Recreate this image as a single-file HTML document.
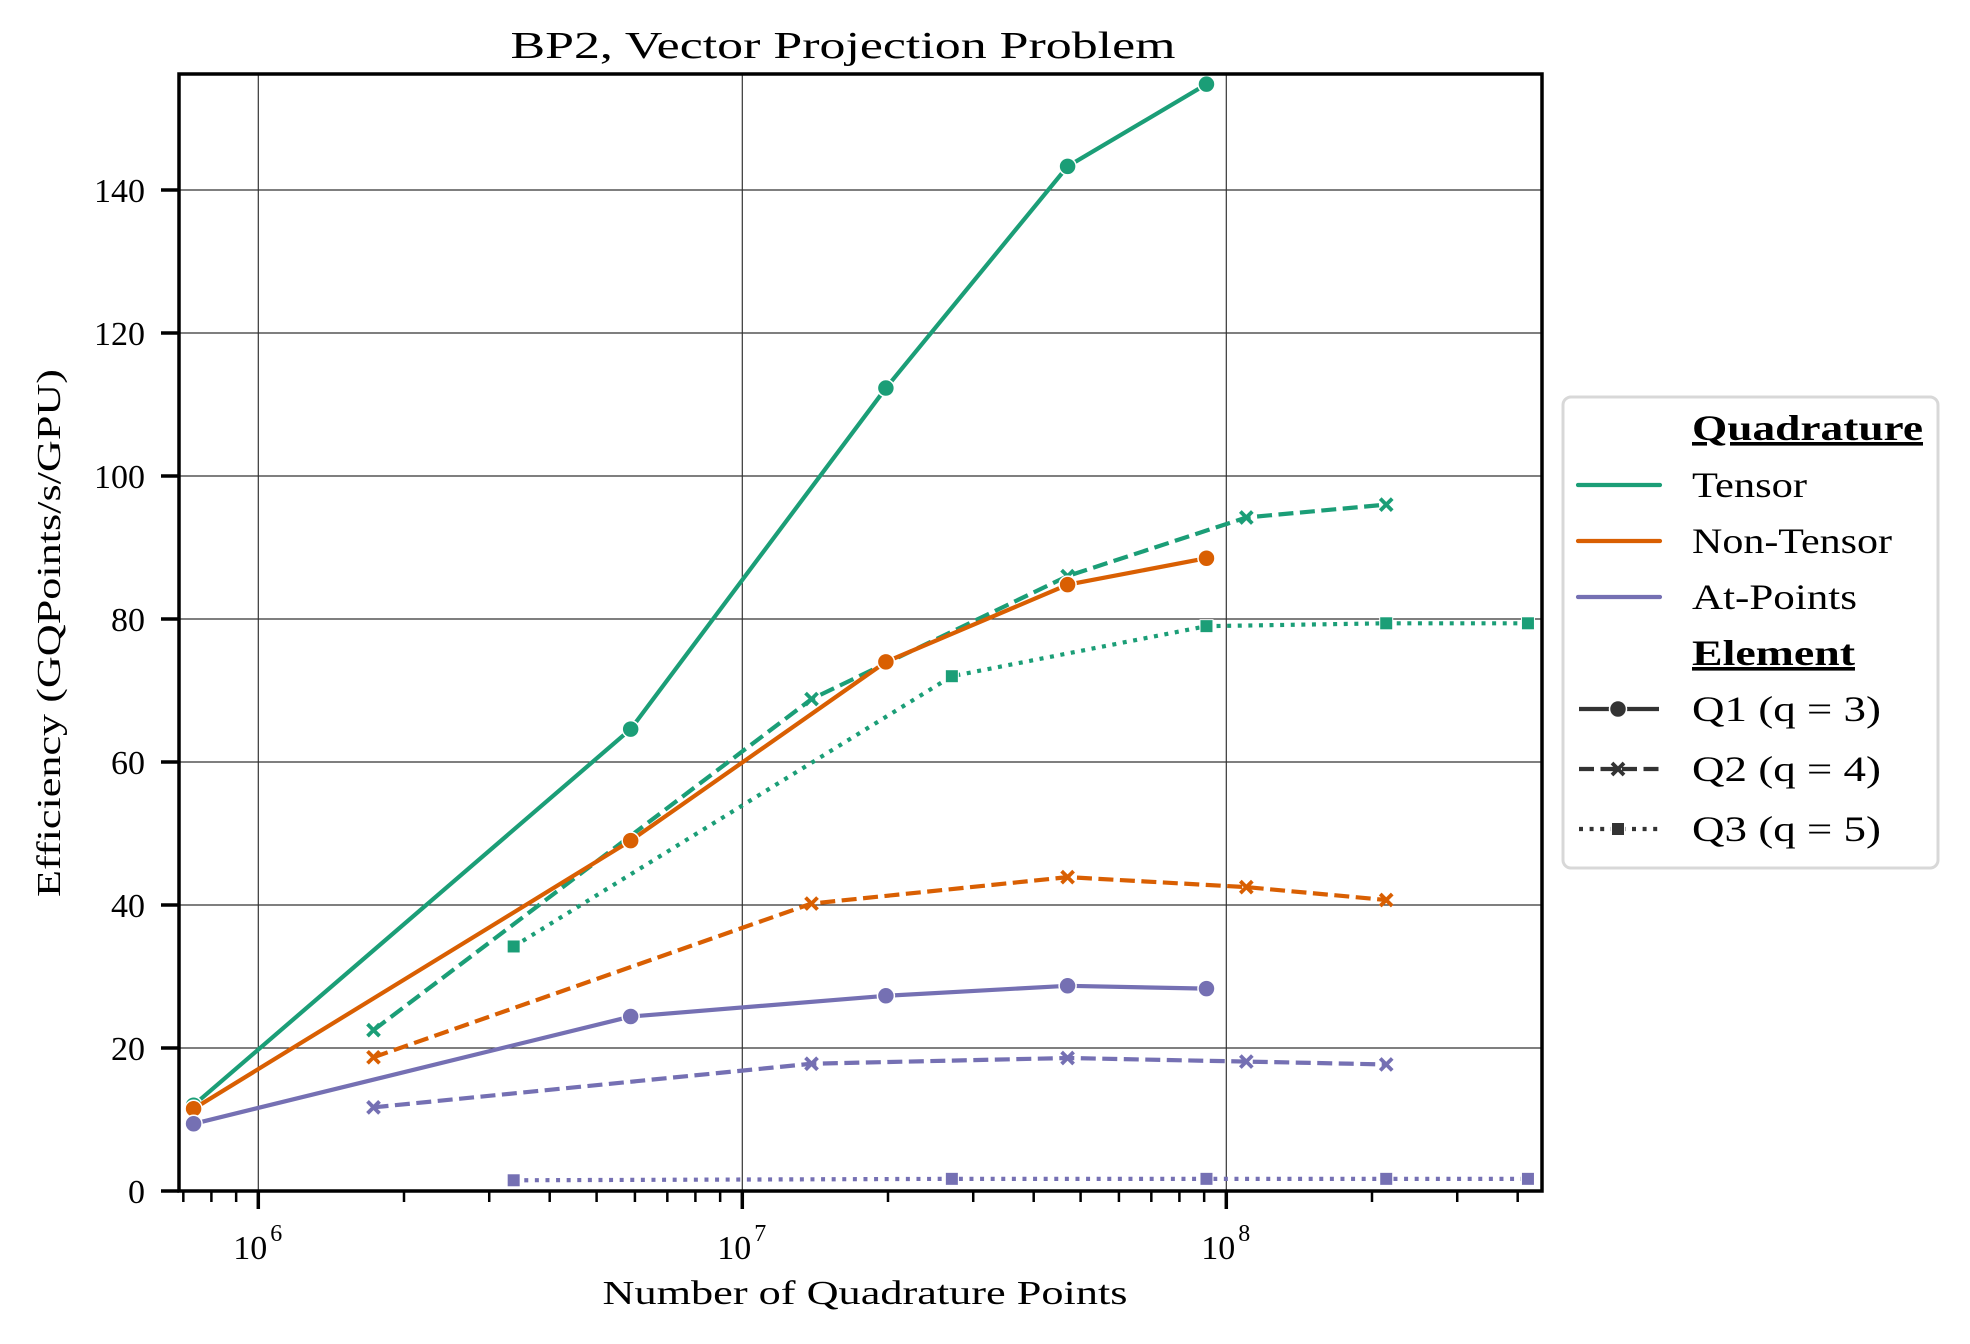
<!DOCTYPE html>
<html><head><meta charset="utf-8"><style>
html,body{margin:0;padding:0;background:#fff}
svg{display:block;font-family:"Liberation Serif","DejaVu Serif",serif}
</style></head><body>
<svg id="chart" width="1970" height="1344" viewBox="0 0 1970 1344">
<g id="grid"></g>
<g id="series"></g>
<g id="axes"></g>
<text x="843" y="58" font-size="38" text-anchor="middle" textLength="665" lengthAdjust="spacingAndGlyphs">BP2, Vector Projection Problem</text>
<text x="865" y="1304" font-size="34" text-anchor="middle" textLength="525" lengthAdjust="spacingAndGlyphs">Number of Quadrature Points</text>
<text transform="translate(60,633) rotate(-90)" font-size="34" text-anchor="middle" textLength="528" lengthAdjust="spacingAndGlyphs">Efficiency (GQPoints/s/GPU)</text>
<g id="legend"></g>
</svg>
<script>
// data
const colors = ["#1b9e77","#d95f02","#7570b3"];
const quadNames = ["Tensor","Non-Tensor","At-Points"];
const xQ1 = [7.35e5, 5.88e6, 1.98e7, 4.7e7, 9.1e7];
const xQ2 = [1.73e6, 1.39e7, 4.7e7, 1.1e8, 2.14e8];
const xQ3 = [3.37e6, 2.71e7, 9.1e7, 2.14e8, 4.2e8];
const tensorQ1 = [12.0, 64.6, 112.3, 143.3, 154.8];
const tensorQ2 = [22.5, 68.8, 86.0, 94.2, 96.0];
const tensorQ3 = [34.2, 72.0, 79.0, 79.4, 79.4];
const nonTensorQ1 = [11.5, 49.0, 74.0, 84.8, 88.5];
const nonTensorQ2 = [18.7, 40.2, 43.9, 42.5, 40.7];
const atPointsQ1 = [9.4, 24.4, 27.3, 28.7, 28.3];
const atPointsQ2 = [11.7, 17.8, 18.6, 18.1, 17.7];
const atPointsQ3 = [1.5, 1.7, 1.7, 1.7, 1.7];
const yTicks = [0,20,40,60,80,100,120,140];
const xDecades = [6,7,8];

const L=179,R=1542,T=74,B=1191;
const X0=258.3, DEC=484;
const YPU=(B-190)/140;
function xs(v){return X0+(Math.log10(v)-6)*DEC;}
function ys(v){return B-v*YPU;}
const NS="http://www.w3.org/2000/svg";
function mk(tag,attrs,parent){const e=document.createElementNS(NS,tag);for(const k in attrs)e.setAttribute(k,attrs[k]);parent.appendChild(e);return e;}
const grid=document.getElementById('grid'),ser=document.getElementById('series'),ax=document.getElementById('axes'),leg=document.getElementById('legend');

yTicks.forEach(t=>{const l=mk('line',{x1:L,x2:R,y1:ys(t),y2:ys(t),stroke:'#333','stroke-width':1.2},grid);

});
xDecades.forEach(d=>{const x=xs(Math.pow(10,d));const l=mk('line',{x1:x,x2:x,y1:T,y2:B,stroke:'#333','stroke-width':1.2},grid);

});

const dashes=["","15 6.5","4 6.6"];
function marker(kind,x,y,c,parent,name){
  let m;
  if(kind===0){m=mk('circle',{cx:x,cy:y,r:8.5,fill:c,stroke:'#fff','stroke-width':1.5},parent);}
  else if(kind===1){m=mk('path',{d:`M${x-6},${y-6}L${x+6},${y+6}M${x-6},${y+6}L${x+6},${y-6}`,stroke:c,'stroke-width':3.8,fill:'none'},parent);}
  else {m=mk('rect',{x:x-6.5,y:y-6.5,width:13,height:13,fill:c,stroke:'#fff','stroke-width':1},parent);}
  
  
}
const seriesList=[
  [0,0,xQ1,tensorQ1],[0,1,xQ2,tensorQ2],[0,2,xQ3,tensorQ3],
  [1,0,xQ1,nonTensorQ1],[1,1,xQ2,nonTensorQ2],
  [2,0,xQ1,atPointsQ1],[2,1,xQ2,atPointsQ2],[2,2,xQ3,atPointsQ3]
];
seriesList.forEach(([q,e,xv,yv])=>{
  const g=mk('g',{},ser);
  
  
  const pts=xv.map((x,i)=>xs(x)+','+ys(yv[i])).join(' ');
  const pl=mk('polyline',{points:pts,fill:'none',stroke:colors[q],'stroke-width':4.2,'stroke-dasharray':dashes[e]},g);
  
  
  xv.forEach((x,i)=>marker(e,xs(x),ys(yv[i]),colors[q],g,'point'));
});

const fr=mk('rect',{x:L,y:T,width:R-L,height:B-T,fill:'none',stroke:'#000','stroke-width':3.5},ax);


yTicks.forEach(t=>{
  const l=mk('line',{x1:L-18,x2:L,y1:ys(t),y2:ys(t),stroke:'#000','stroke-width':3.5},ax);
  
  
  const tx=mk('text',{x:L-34,y:ys(t)+12,'font-size':34,'text-anchor':'end'},ax);
  tx.textContent=t;
  
  
});
for(let d=5;d<=8;d++){for(let k=1;k<10;k++){
  const v=k*Math.pow(10,d);const x=xs(v);if(x<L||x>R)continue;
  const major=k===1;
  const l=mk('line',{x1:x,x2:x,y1:B,y2:B+(major?18:11),stroke:'#000','stroke-width':major?3.5:2.5},ax);
  
  
  if(major){const tx=mk('text',{x:x-8,y:B+68,'font-size':34,'text-anchor':'middle'},ax);
    tx.textContent='10';
    
    
    const sp=mk('text',{x:x+12,y:B+50,'font-size':24,'text-anchor':'start'},ax);sp.textContent=String(d);
    
    }
}}

const lb=mk('rect',{x:1563,y:397,width:375,height:471,rx:8,fill:'#fff',stroke:'#d8d8d8','stroke-width':3},leg);


function ltext(y,s,bold,name,len){const t=mk('text',{x:1692,y:y+12,'font-size':36,'font-weight':bold?'bold':'normal',textLength:len,lengthAdjust:'spacingAndGlyphs'},leg);t.textContent=s;
  if(bold)t.setAttribute('text-decoration','underline');
  
  return t;}
ltext(428,'Quadrature',true,'legend-title-quadrature',231);
const qLens=[115,200,165];
[485,541,597].forEach((y,i)=>{const l=mk('line',{x1:1578,x2:1660,y1:y,y2:y,stroke:colors[i],'stroke-width':4.2,'stroke-linecap':'round'},leg);
  
  
  ltext(y,quadNames[i],false,'legend-entry-'+quadNames[i].toLowerCase(),qLens[i]);});
ltext(653,'Element',true,'legend-title-element',163);
const elNames=['Q1 (q = 3)','Q2 (q = 4)','Q3 (q = 5)'];
[709,769,829].forEach((y,i)=>{
  const l=mk('line',{x1:1579,x2:1659,y1:y,y2:y,stroke:'#333','stroke-width':4.2,'stroke-dasharray':dashes[i]},leg);
  
  
  marker(i,1618,y,'#333',leg,'legend-marker');
  ltext(y,elNames[i],false,'legend-entry-q'+(i+1),189);});
</script>
</body></html>
